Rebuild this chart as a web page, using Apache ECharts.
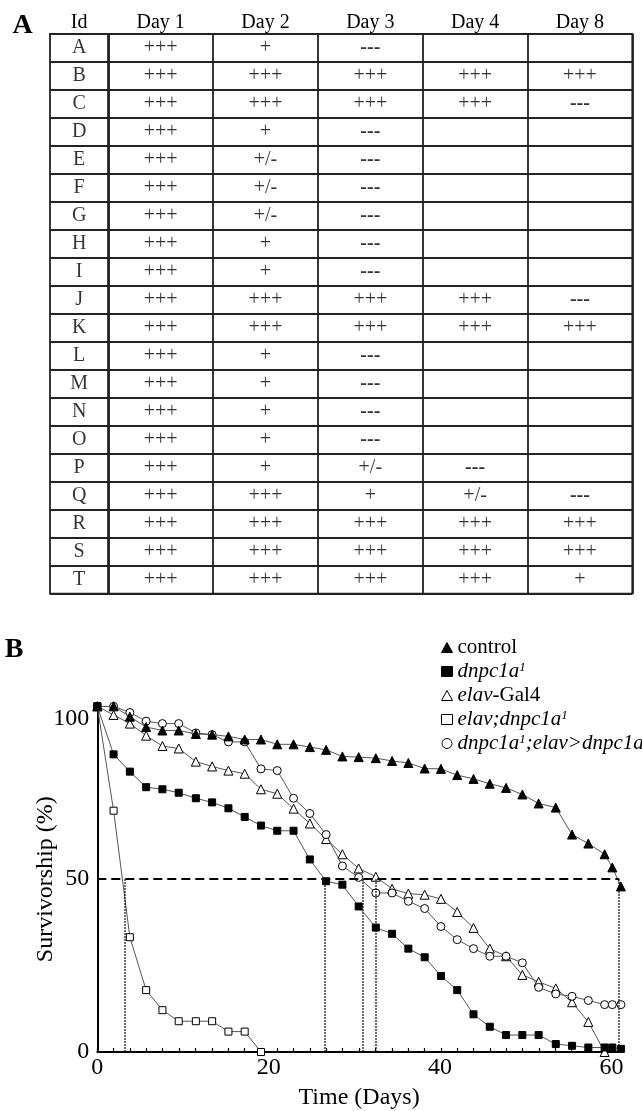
<!DOCTYPE html>
<html>
<head>
<meta charset="utf-8">
<script src="https://cdn.jsdelivr.net/npm/echarts@6.0.0/dist/echarts.min.js"></script>
<style>
  html, body { margin: 0; padding: 0; background: #ffffff; }
  #chart { width: 642px; height: 1111px; }
</style>
</head>
<body>
<div id="chart"></div>
<script>
// ---------- Panel A: table data ----------
const rowIds = ['A','B','C','D','E','F','G','H','I','J','K','L','M','N','O','P','Q','R','S','T'];
const idHeader = ['Id'];
const dayHeaders = ['Day 1','Day 2','Day 3','Day 4','Day 8'];
const day1 = ['+++','+++','+++','+++','+++','+++','+++','+++','+++','+++','+++','+++','+++','+++','+++','+++','+++','+++','+++','+++'];
const day2 = ['+','+++','+++','+','+/-','+/-','+/-','+','+','+++','+++','+','+','+','+','+','+++','+++','+++','+++'];
const day3 = ['---','+++','+++','---','---','---','---','---','---','+++','+++','---','---','---','---','+/-','+','+++','+++','+++'];
const day4 = ['','+++','+++','','','','','','','+++','+++','','','','','---','+/-','+++','+++','+++'];
const day8 = ['','+++','---','','','','','','','---','+++','','','','','','---','+++','+++','+'];

// ---------- Panel B: survival data ----------
const days = [0, 1.9, 3.8, 5.7, 7.6, 9.5, 11.5, 13.4, 15.3, 17.2, 19.1, 21.0, 22.9, 24.8, 26.7, 28.6, 30.5,
              32.5, 34.4, 36.3, 38.2, 40.1, 42.0, 43.9, 45.8, 47.7, 49.6, 51.5, 53.5, 55.4, 57.3, 59.2, 60.1, 61.1];
const control = [100, 100, 97.0, 94.0, 93.0, 93.0, 92.0, 91.8, 91.3, 90.4, 90.4, 89.0, 89.0, 88.2, 87.4, 85.5, 85.3,
                 85.0, 84.2, 83.6, 82.0, 81.9, 80.1, 79.0, 77.6, 76.4, 74.5, 71.9, 70.7, 62.9, 60.3, 57.2, 53.4, 47.9];
const dnpc1a = [100, 86.1, 81.1, 76.6, 76.0, 75.0, 73.4, 72.2, 70.5, 68.0, 65.5, 64.0, 64.0, 55.7, 49.4, 48.4, 42.1,
                36.0, 34.2, 29.9, 27.4, 22.0, 17.9, 10.9, 7.3, 4.9, 4.9, 4.9, 2.3, 1.8, 1.3, 1.3, 1.3, 0.9];
const elavGal4 = [100, 97.5, 95.0, 91.5, 88.5, 87.8, 84.0, 82.6, 81.4, 80.5, 76.0, 74.7, 70.4, 66.1, 61.6, 57.2, 53.1,
                  50.7, 47.2, 45.8, 45.5, 44.3, 40.5, 35.9, 29.9, 27.7, 22.3, 20.3, 18.4, 14.4, 8.7, 0];
const elavDnpc1a = [100, 69.8, 33.2, 17.9, 12.1, 8.9, 8.9, 8.9, 5.9, 5.9, 0];
const rescue = [100, 100, 98.2, 95.7, 95.0, 95.0, 92.3, 91.8, 89.7, 89.7, 81.9, 81.4, 73.4, 69.0, 62.9, 53.8, 50.5,
                46.0, 46.0, 43.6, 41.5, 36.3, 32.5, 29.9, 27.7, 27.7, 25.8, 18.7, 16.8, 16.1, 14.9, 13.7, 13.7, 13.7];
const medianDays = [3.2, 26.5, 31.0, 32.5, 60.9];
const halfLevel = 50;
const xTickLabels = [0, 20, 40, 60];
const yTickLabels = [0, 50, 100];

// ---------- build ----------
const SERIF = '"Liberation Serif", "Times New Roman", serif';
const chart = echarts.init(document.getElementById('chart'), null, { renderer: 'canvas' });

function tableCells(cols) {
  const out = [];
  cols.forEach((col, c) => col.forEach((t, r) => {
    if (t) out.push({ value: [c, r, t], label: t === '---' ? { fontWeight: 'bold' } : {} });
  }));
  return out;
}
const pairs = vals => vals.map((v, i) => [days[i], v]);

const lineColor = '#555';
const tableLine = { show: true, lineStyle: { color: '#222', width: 1.8 } };

const cellLabel = {
  show: true, position: 'inside', formatter: p => p.value[2],
  fontFamily: SERIF, fontSize: 20, color: '#000'
};

const names = ['control', 'dnpc1a¹', 'elav-Gal4', 'elav;dnpc1a¹', 'dnpc1a¹;elav>dnpc1a'];
const legendRich = {
  control: '{n|control}',
  'dnpc1a¹': '{i|dnpc1a}{s|1}',
  'elav-Gal4': '{i|elav}{n|-Gal4}',
  'elav;dnpc1a¹': '{i|elav;dnpc1a}{s|1}',
  'dnpc1a¹;elav>dnpc1a': '{i|dnpc1a}{s|1}{i|;elav>dnpc1a}'
};

const filled = { color: '#000', borderColor: '#000', borderWidth: 1 };
const hollow = { color: '#fff', borderColor: '#000', borderWidth: 1 };

function survSeries(name, vals, symbol, size, style, z) {
  return {
    name, type: 'line', xAxisIndex: 2, yAxisIndex: 2, data: pairs(vals),
    symbol, symbolSize: size, showSymbol: true, itemStyle: style,
    lineStyle: { color: lineColor, width: 1 }, z, animation: false,
    emphasis: { disabled: true }
  };
}

const refLines = [[{ coord: [0, halfLevel], lineStyle: { type: [9, 5], width: 2, color: '#000' } },
                   { coord: [medianDays[medianDays.length - 1], halfLevel] }]];
medianDays.forEach(m => refLines.push([
  { coord: [m, halfLevel], lineStyle: { type: [1.5, 1.5], width: 1.5, color: '#000' } },
  { coord: [m, 0] }
]));

const controlSeries = survSeries('control', control, 'triangle', 9, filled, 4);
controlSeries.markLine = { silent: true, symbol: ['none', 'none'], label: { show: false }, data: refLines, animation: false };

const option = {
  backgroundColor: '#fff',
  animation: false,
  graphic: [
    { type: 'text', x: 22.7, y: 25.8, style: { text: 'A', fontSize: 28, fontWeight: 'bold', fontFamily: SERIF, fill: '#000', align: 'center', verticalAlign: 'middle' } },
    { type: 'text', x: 14.2, y: 650, style: { text: 'B', fontSize: 28, fontWeight: 'bold', fontFamily: SERIF, fill: '#000', align: 'center', verticalAlign: 'middle' } }
  ],
  grid: [
    { left: 50, top: 34, width: 58.3, height: 559.7, show: true, borderColor: '#222', borderWidth: 1.8, containLabel: false },
    { left: 108.3, top: 34, width: 524, height: 559.7, show: true, borderColor: '#222', borderWidth: 1.8, containLabel: false },
    { left: 97.3, top: 706.3, width: 523.6, height: 351, containLabel: false }
  ],
  xAxis: [
    { gridIndex: 0, type: 'category', position: 'top', data: idHeader, axisLine: { show: false }, axisTick: { show: false },
      axisLabel: { fontFamily: SERIF, fontSize: 20, color: '#000', margin: 1.5 }, splitLine: { show: false } },
    { gridIndex: 1, type: 'category', position: 'top', data: dayHeaders, axisLine: { show: false }, axisTick: { show: false },
      axisLabel: { fontFamily: SERIF, fontSize: 20, color: '#000', margin: 1.5 }, splitLine: tableLine },
    { gridIndex: 2, type: 'value', min: 0, max: 61.1, interval: 20,
      axisLine: { show: true, onZero: false, lineStyle: { color: '#000', width: 2 } },
      axisTick: { show: false }, splitLine: { show: false },
      axisLabel: { fontFamily: SERIF, fontSize: 24, color: '#000', margin: 4, showMaxLabel: false,
                   formatter: v => (xTickLabels.indexOf(v) >= 0 ? String(v) : '') },
      name: 'Time (Days)', nameLocation: 'middle', nameGap: 34, nameMoveOverlap: false,
      nameTextStyle: { fontFamily: SERIF, fontSize: 24, color: '#000' } },
    { gridIndex: 2, type: 'value', min: 0, max: 61.1, interval: 1.909,
      axisLine: { show: false }, axisLabel: { show: false }, splitLine: { show: false },
      axisTick: { show: true, inside: false, length: 4, lineStyle: { color: '#000', width: 1.2 } } }
  ],
  yAxis: [
    { gridIndex: 0, type: 'category', data: rowIds, inverse: true, axisLine: { show: false }, axisTick: { show: false },
      axisLabel: { show: false }, splitLine: tableLine },
    { gridIndex: 1, type: 'category', data: rowIds, inverse: true, axisLine: { show: false }, axisTick: { show: false },
      axisLabel: { show: false }, splitLine: tableLine },
    { gridIndex: 2, type: 'value', min: 0, max: 100, interval: 50,
      axisLine: { show: true, onZero: false, lineStyle: { color: '#000', width: 2 } },
      axisTick: { show: false }, splitLine: { show: false },
      axisLabel: { fontFamily: SERIF, fontSize: 24, color: '#000', margin: 8,
        formatter: v => (v === 100 ? '{lo|100}' : (yTickLabels.indexOf(v) >= 0 ? String(v) : '')),
        rich: { lo: { fontFamily: SERIF, fontSize: 24, color: '#000', padding: [24, 0, 0, 0] } } },
      name: 'Survivorship (%)', nameLocation: 'middle', nameGap: 40, nameRotate: 90, nameMoveOverlap: false,
      nameTextStyle: { fontFamily: SERIF, fontSize: 24, color: '#000' } }
  ],
  legend: {
    orient: 'vertical', left: 436, top: 632, itemWidth: 11, itemHeight: 10, itemGap: 3,
    selectedMode: false,
    data: [
      { name: names[0], icon: 'triangle', itemStyle: filled },
      { name: names[1], icon: 'rect', itemStyle: filled },
      { name: names[2], icon: 'triangle', itemStyle: hollow },
      { name: names[3], icon: 'rect', itemStyle: hollow },
      { name: names[4], icon: 'circle', itemStyle: hollow }
    ],
    formatter: n => legendRich[n],
    textStyle: {
      fontFamily: SERIF, fontSize: 21, color: '#000',
      rich: {
        n: { fontFamily: SERIF, fontSize: 21, color: '#000' },
        i: { fontFamily: SERIF, fontSize: 21, color: '#000', fontStyle: 'italic' },
        s: { fontFamily: SERIF, fontSize: 13, color: '#000', fontStyle: 'italic', verticalAlign: 'top' }
      }
    }
  },
  series: [
    { type: 'scatter', xAxisIndex: 0, yAxisIndex: 0, symbol: 'rect', symbolSize: 1,
      itemStyle: { color: 'rgba(0,0,0,0)' }, label: cellLabel, silent: true,
      data: tableCells([rowIds]) },
    { type: 'scatter', xAxisIndex: 1, yAxisIndex: 1, symbol: 'rect', symbolSize: 1,
      itemStyle: { color: 'rgba(0,0,0,0)' }, label: cellLabel, silent: true,
      data: tableCells([day1, day2, day3, day4, day8]) },
    survSeries(names[3], elavDnpc1a, 'rect', 7, hollow, 2),
    survSeries(names[2], elavGal4, 'triangle', 9, hollow, 2),
    survSeries(names[4], rescue, 'circle', 8, hollow, 3),
    controlSeries,
    survSeries(names[1], dnpc1a, 'rect', 7, filled, 5)
  ]
};
chart.setOption(option);
</script>
</body>
</html>
